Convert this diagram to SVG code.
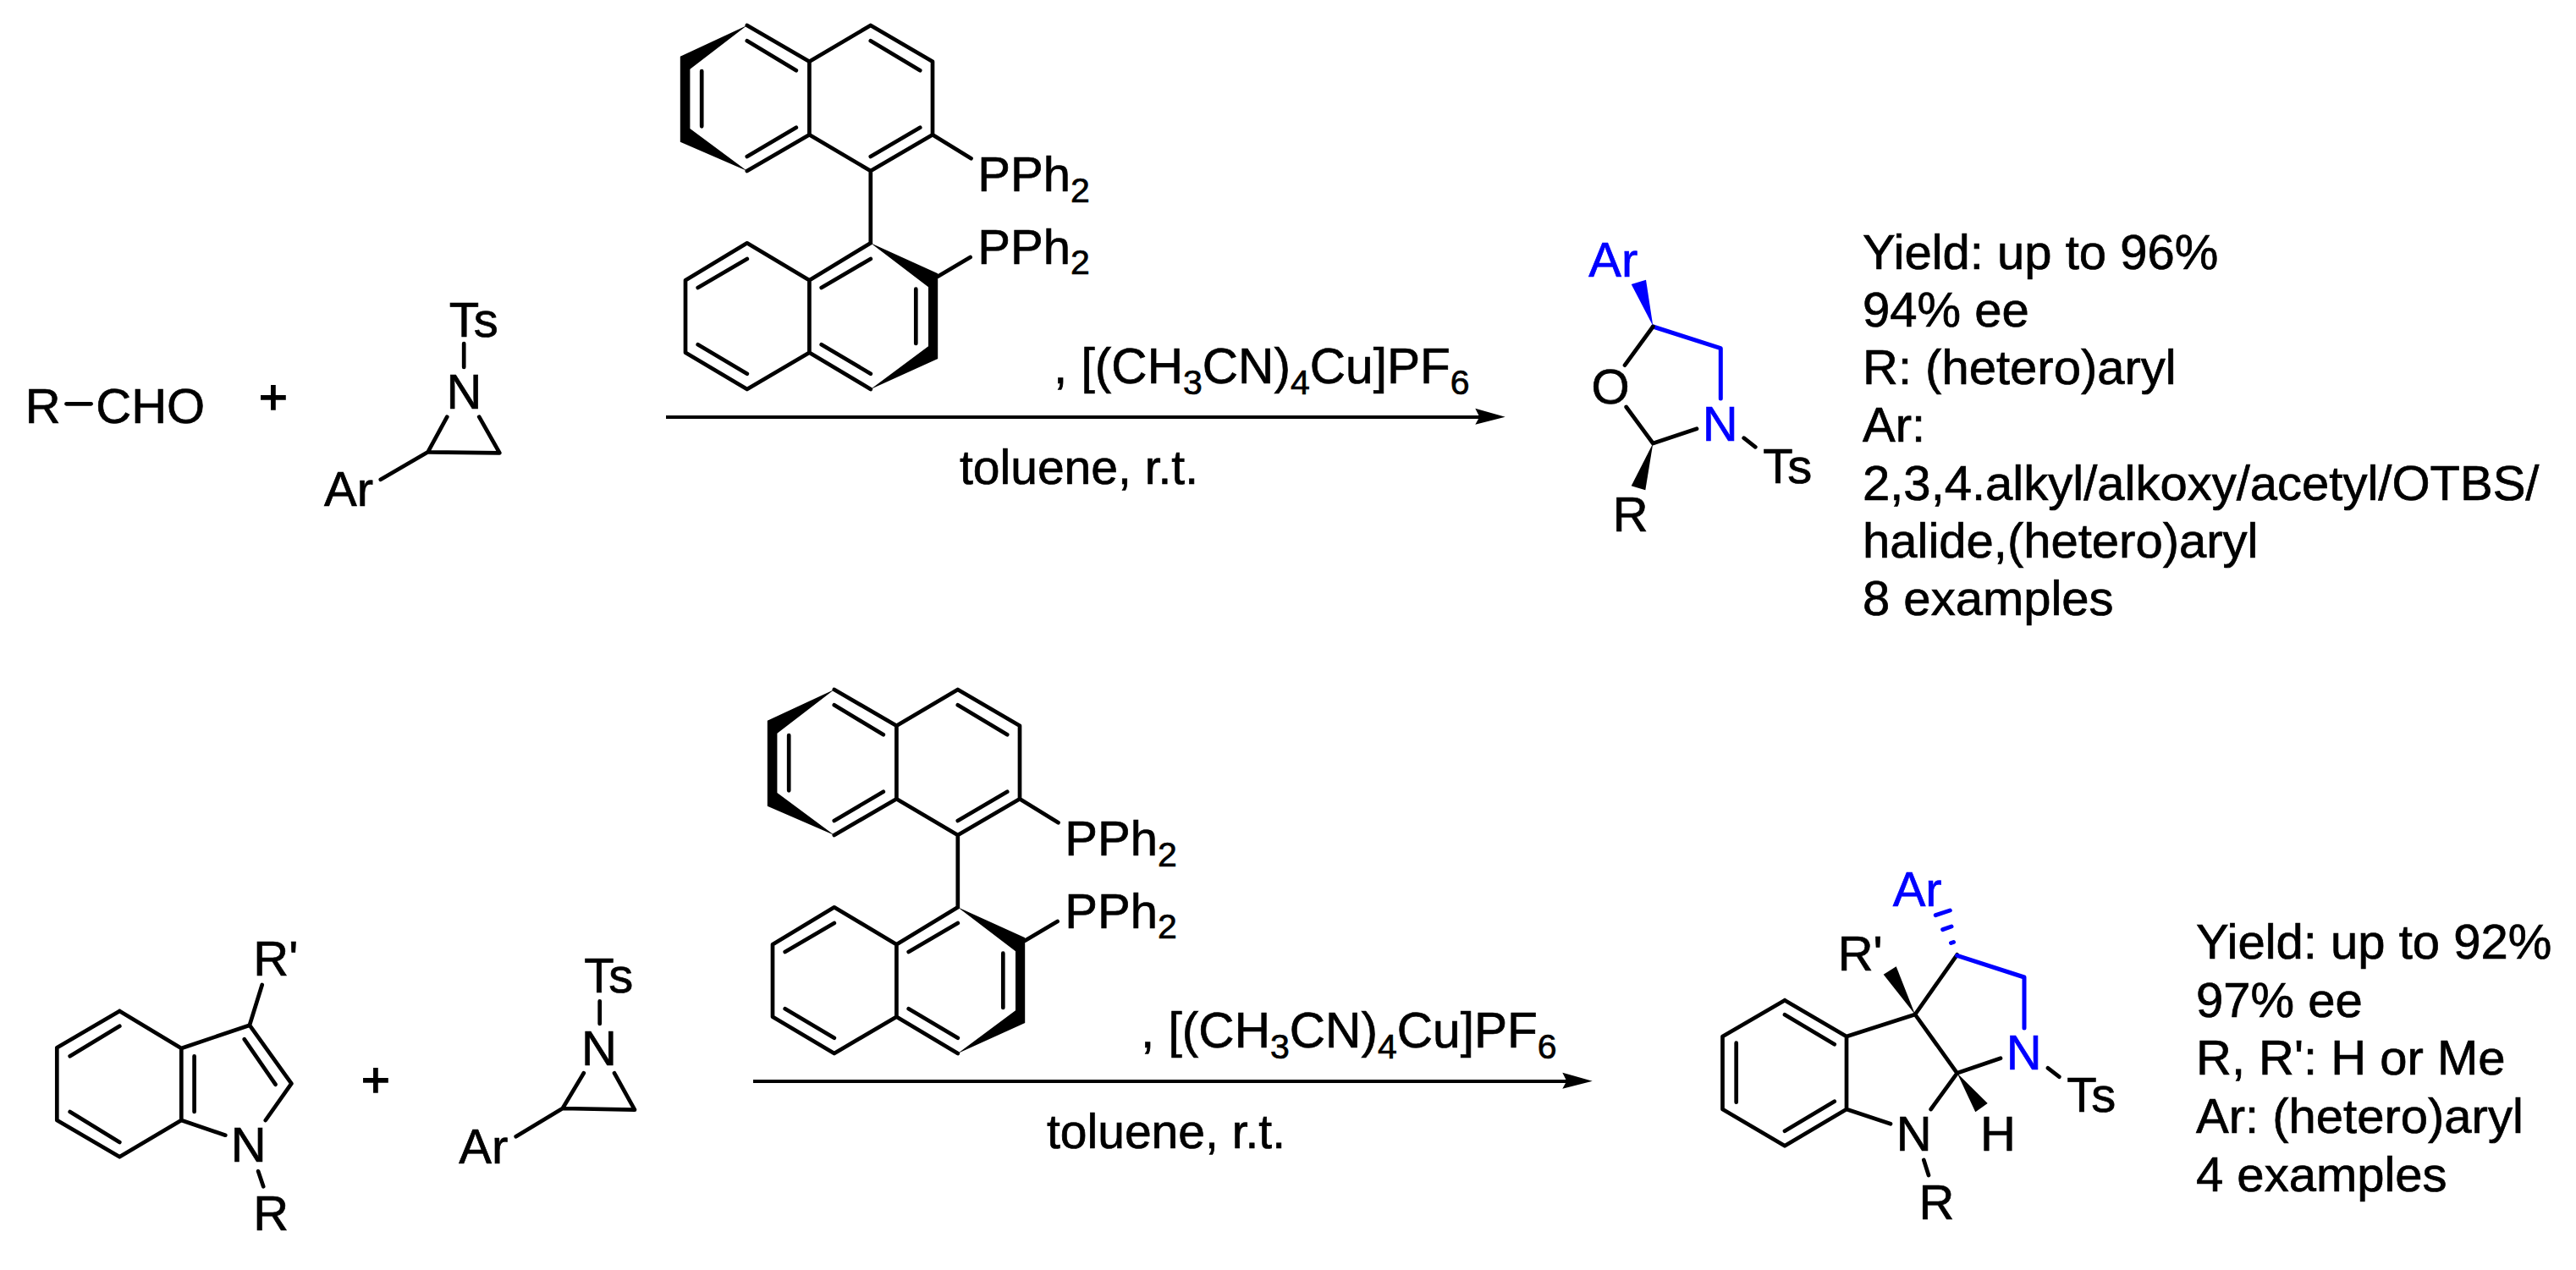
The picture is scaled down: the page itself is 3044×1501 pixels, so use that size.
<svg xmlns="http://www.w3.org/2000/svg" width="3044" height="1501" viewBox="0 0 3044 1501">
<style>
.b{fill:none;stroke:#000;stroke-width:4.7;stroke-linecap:round;stroke-linejoin:round}
.bl{fill:none;stroke:#00f;stroke-width:5;stroke-linecap:round;stroke-linejoin:round}
.k{fill:#000}
.u{fill:#00f}
text{font-family:"Liberation Sans",Arial,sans-serif;font-size:58px;fill:#000;stroke:#000;stroke-width:.7px}
text.blue{fill:#00f;stroke:#00f}
text.r{font-size:58.6px}
text.p{stroke-width:1.6px}
.s{font-size:41px}
.arrow{fill:none;stroke:#000;stroke-width:4}
</style>
<defs>
<g id="binap-shape">
<path class="b" d="M882.8 30L956.4 72.7L1028.8 30L1102 72.7V159.3L1028.8 202L956.4 159.3L882.8 202M956.4 72.7V159.3M1028.8 202V287.3M829.2 84V149.3M882.8 48.3L940.8 83.3M882.8 185L940.8 150.7M1028.8 48.3L1087.2 83.3M1028.8 185L1087.2 150.7M1102 159.3L1147.5 187.3M1028.8 287.3L956.4 331.3L882.8 287.3L810 331.3V416.7L882.8 460L956.4 416.7L1028.8 460M956.4 331.3V416.7M1082.3 341.7V406M1028.8 306L970.7 340M882.8 306L824.7 340M824.7 407.3L882.8 441.7M970.7 407.3L1028.8 441.7M1108.2 326.7L1146.6 304"/>
<path class="k" d="M882.8 30L803.8 66.7V167.7L882.8 202L815.4 152V81.7Z"/>
<path class="k" d="M1028.8 287.3L1108.2 323.3V424L1028.8 460L1097 409.3V339.3Z"/>
</g>
</defs>

<g id="aldehyde-1">
<text x="29.7" y="500">R</text><text x="113.3" y="500">CHO</text>
<path class="b" d="M78.5 477.3H107.6"/>
</g>
<g id="plus-1"><text class="p" x="306" y="489">+</text></g>
<g id="aziridine-1">
<text x="530.7" y="397.7">Ts</text><text x="527.4" y="483.3">N</text><text x="383" y="598.3">Ar</text>
<path class="b" d="M548.2 406V434M528.3 492.7L505.6 534.3L590.4 535.3L566.2 492.7M505.6 534.3L449.8 566.7"/>
</g>
<g id="binap-1">
<use href="#binap-shape"/>
<text x="1155.3" y="225.5">PPh<tspan class="s" dy="13">2</tspan></text>
<text x="1155.3" y="311.7">PPh<tspan class="s" dy="12">2</tspan></text>
</g>
<g id="reagent-1">
<text class="r" x="1245" y="453.3">, [(CH<tspan class="s" dy="13">3</tspan><tspan dy="-13">CN)</tspan><tspan class="s" dy="13">4</tspan><tspan dy="-13">Cu]PF</tspan><tspan class="s" dy="13">6</tspan></text>
</g>
<g id="conditions-1"><text x="1134" y="571.7" style="font-size:57px">toluene, r.t.</text></g>
<g id="product-1">
<text class="blue" x="1877.3" y="327.3">Ar</text>
<path class="u" d="M1953.3 385.3L1927.7 336L1945 330.7Z"/>
<path class="bl" d="M1953.3 386L2033.3 411.7V471"/>
<path class="b" d="M1953.3 386L1920 431.7M1921.7 481L1953.3 524L2005 506.7M2060.7 517.7L2074.3 528.3"/>
<path class="k" d="M1953.3 524L1927.7 574.3L1944.3 579.3Z"/>
<text x="1880.6" y="477">O</text>
<text class="blue" x="2011.7" y="520.7">N</text>
<text x="2083.3" y="570.7">Ts</text>
<text x="1905.7" y="628.3">R</text>
</g>
<g id="summary-1">
<text x="2201" y="317.7">Yield: up to 96%</text>
<text x="2201" y="385.7">94% ee</text>
<text x="2201" y="454">R: (hetero)aryl</text>
<text x="2201" y="522.3">Ar:</text>
<text x="2201" y="590.7">2,3,4.alkyl/alkoxy/acetyl/OTBS/</text>
<text x="2201" y="658.7">halide,(hetero)aryl</text>
<text x="2201" y="726.7">8 examples</text>
</g>

<g id="indole">
<path class="b" d="M141.3 1195L67.3 1238.3V1324L141.3 1367.3L214.3 1324V1239L141.3 1195M214.3 1239L294.9 1211.7L344.4 1280.7L313.8 1324M214.3 1324L266.3 1341.7M294.9 1211.7L309.7 1164M141.3 1212.7L82.7 1248.3M82.7 1314L141.3 1350M229.6 1248.3V1314M288.8 1228.3L325.5 1281.7M305.1 1384.3L311.2 1402.3"/>
<text x="272.7" y="1373.3">N</text><text x="299.3" y="1454.3">R</text><text x="299.3" y="1153.3">R'</text>
</g>
<g id="plus-2"><text class="p" x="427" y="1296">+</text></g>
<g id="aziridine-2">
<text x="690.3" y="1173.3">Ts</text><text x="687" y="1259.3">N</text><text x="542.3" y="1375">Ar</text>
<path class="b" d="M708.7 1183.3V1210M689.8 1268.3L664.8 1310L750 1311.7L726 1268.3M664.8 1310L609.7 1343.3"/>
</g>
<g id="binap-2" transform="translate(103 785)">
<use href="#binap-shape"/>
<text x="1155.3" y="225.5">PPh<tspan class="s" dy="13">2</tspan></text>
<text x="1155.3" y="311.7">PPh<tspan class="s" dy="12">2</tspan></text>
</g>
<g id="reagent-2" transform="translate(103 785)">
<text class="r" x="1245" y="453.3">, [(CH<tspan class="s" dy="13">3</tspan><tspan dy="-13">CN)</tspan><tspan class="s" dy="13">4</tspan><tspan dy="-13">Cu]PF</tspan><tspan class="s" dy="13">6</tspan></text>
</g>
<g id="conditions-2" transform="translate(103 785)"><text x="1134" y="571.7" style="font-size:57px">toluene, r.t.</text></g>
<g id="product-2">
<path class="b" d="M2109 1182.3L2035.5 1225V1311L2109 1354.3L2182 1311V1225L2109 1182.3M2182 1225L2263 1199L2312.7 1268.3L2281.7 1311M2182 1311L2234 1328.3M2263 1199L2312.7 1128.3M2312.7 1268.3L2364 1250.7M2420 1262.3L2433.3 1272.7M2109 1199.3L2167.7 1234.3M2051.7 1232.7V1302.7M2109 1336.7L2167.7 1301.7M2273.3 1371L2279 1389"/>
<path class="bl" d="M2312.7 1129.3L2392 1155V1215"/>
<path class="bl" d="M2287.3 1081.7L2304.3 1076M2295.7 1098.7L2306 1095M2305.5 1114.5L2308.5 1113.5"/>
<path class="k" d="M2263 1199L2225.7 1151.7L2240.7 1142.3Z"/>
<path class="k" d="M2312.7 1268.3L2334.3 1314.3L2348.7 1304Z"/>
<text class="blue" x="2236.7" y="1071">Ar</text>
<text x="2171.7" y="1147.3">R'</text>
<text class="blue" x="2370.7" y="1264.3">N</text>
<text x="2442.3" y="1314">Ts</text>
<text x="2240.7" y="1360">N</text>
<text x="2340" y="1360">H</text>
<text x="2267.4" y="1441">R</text>
</g>
<g id="summary-2">
<text x="2595" y="1133.3">Yield: up to 92%</text>
<text x="2595" y="1201.7">97% ee</text>
<text x="2595" y="1270">R, R': H or Me</text>
<text x="2595" y="1339.3">Ar: (hetero)aryl</text>
<text x="2595" y="1407.7">4 examples</text>
</g>

<g id="connectors">
<path class="arrow" d="M787 493H1750"/>
<path class="k" d="M1778.7 492.7L1743.3 482.7L1748.3 492.7L1743.3 501.7Z"/>
<path class="arrow" d="M890 1278H1853"/>
<path class="k" d="M1881.7 1277.7L1846.3 1267.7L1851.3 1277.7L1846.3 1286.7Z"/>
</g>
</svg>
